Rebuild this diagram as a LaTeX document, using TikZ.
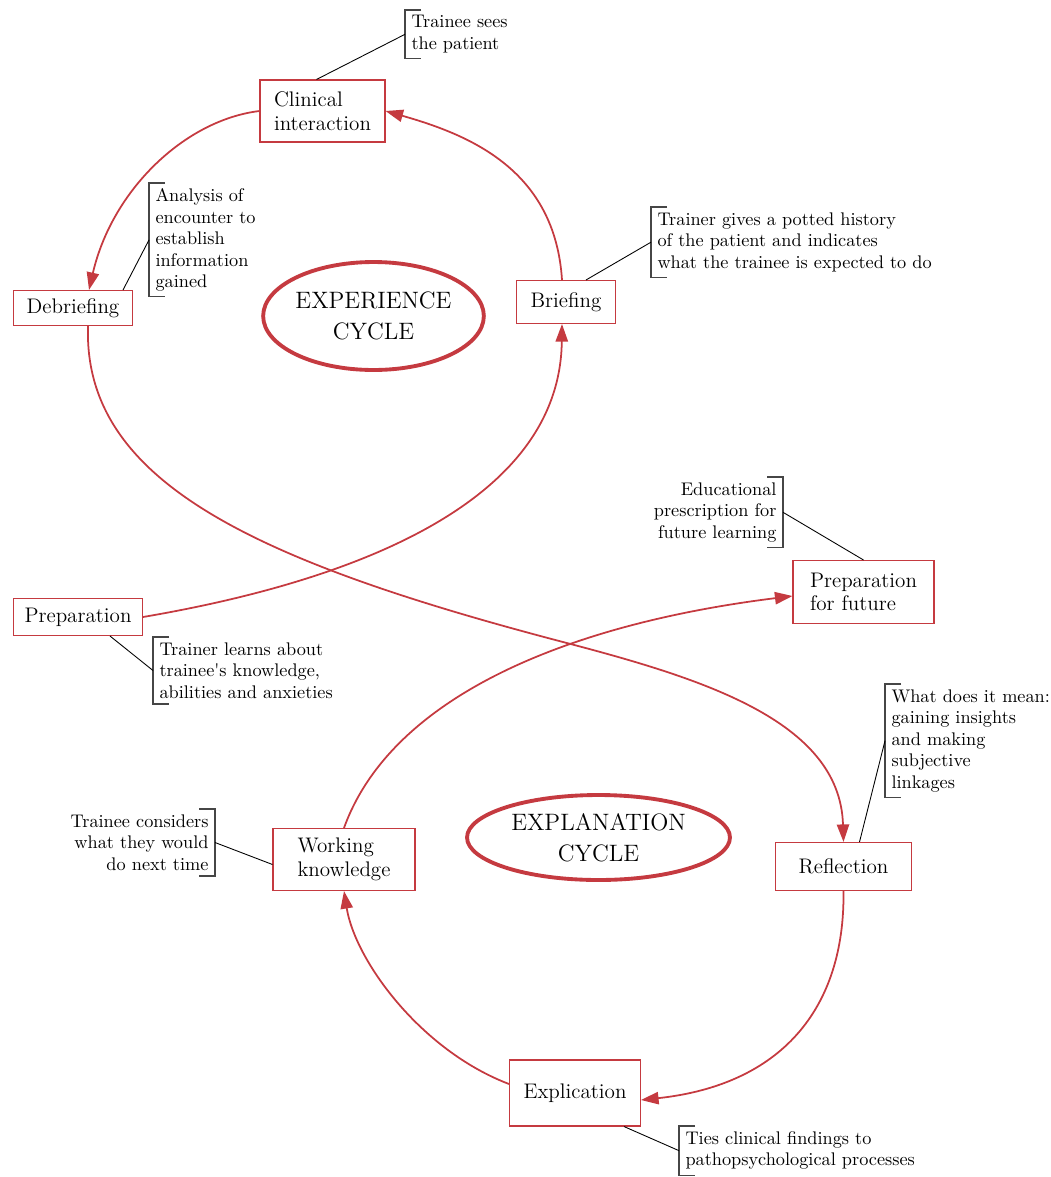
\documentclass[tikz,border=0pt]{standalone}
\usepackage{xcolor}
\usetikzlibrary{positioning,calc,arrows.meta,shapes.geometric}
\definecolor{cyclered}{RGB}{197,58,64}
\definecolor{bracketgray}{RGB}{70,70,70}

\begin{document}
\begin{tikzpicture}[x=0.02cm,y=-0.02cm,>={Triangle[length=10pt,width=7pt]},
    stage/.style={rectangle,draw=cyclered,line width=0.6pt,align=left,inner sep=0pt,font=\fontsize{12}{13.5}\selectfont},
    cyclebox/.style={ellipse,draw=cyclered,line width=2.2pt,align=center,inner sep=0pt,font=\fontsize{13.5}{17.5}\selectfont},
    note/.style={inner xsep=3.5pt,inner ysep=3pt,font=\fontsize{10.4}{12.2}\selectfont},
    flow/.style={->,draw=cyclered,line width=1pt},
    lead/.style={draw=black,line width=0.5pt},
    brack/.style={draw=bracketgray,line width=0.6pt}]
\useasboundingbox (0,0) rectangle (1051,1177);

%Cycles
    \node[cyclebox,minimum width=4.38cm,minimum height=2.16cm] (expc) at (373.5,316) {EXPERIENCE\\CYCLE};
    \node[cyclebox,minimum width=5.26cm,minimum height=1.70cm] (expn) at (598.5,837.5) {EXPLANATION\\CYCLE};

%Stages
    \node[stage,minimum width=2.50cm,minimum height=1.24cm] (clin) at (322.5,111) {Clinical\\interaction};
    \node[stage,minimum width=2.38cm,minimum height=0.70cm] (debr) at (73,308) {Debriefing};
    \node[stage,minimum width=1.98cm,minimum height=0.86cm] (brief) at (566,302) {Briefing};
    \node[stage,minimum width=2.58cm,minimum height=0.74cm] (prep) at (78,617) {Preparation};
    \node[stage,minimum width=2.82cm,minimum height=1.26cm] (prepf) at (863.5,592) {Preparation\\for future};
    \node[stage,minimum width=2.72cm,minimum height=0.96cm] (refl) at (843.5,866.5) {Reflection};
    \node[stage,minimum width=2.84cm,minimum height=1.24cm] (work) at (344,859.5) {Working\\knowledge};
    \node[stage,minimum width=2.62cm,minimum height=1.32cm] (expl) at (575,1093) {Explication};

%Notes
    \node[note,align=left,anchor=north west] (tsees) at (405,10) {Trainee sees\\the patient};
    \node[note,align=left,anchor=north west] (analy) at (149,183) {Analysis of\\encounter to\\establish\\information\\gained};
    \node[note,align=left,anchor=north west] (potted) at (651,207) {Trainer gives a potted history\\of the patient and indicates\\what the trainee is expected to do};
    \node[note,align=right,anchor=north east] (educ) at (783,477) {Educational\\prescription for\\future learning};
    \node[note,align=left,anchor=north west] (learns) at (153,637) {Trainer learns about\\trainee\textquotesingle s knowledge,\\abilities and anxieties};
    \node[note,align=right,anchor=north east] (consid) at (215,809) {Trainee considers\\what they would\\do next time};
    \node[note,align=left,anchor=north west] (meaning) at (885,684) {What does it mean:\\gaining insights\\and making\\subjective\\linkages};
    \node[note,align=left,anchor=north west] (ties) at (679,1126) {Ties clinical findings to\\pathopsychological processes};

    \foreach \n in {tsees,analy,potted,learns,meaning,ties}
        \draw[brack] ($(\n.north west)+(16,0)$) -| (\n.south west) -- ++(16,0);
    \foreach \n in {educ,consid}
        \draw[brack] ($(\n.north east)+(-16,0)$) -| (\n.south east) -- ++(-16,0);

    \draw[lead] ($(clin.north)+(-6,0)$) -- (tsees.west);
    \draw[lead] ($(debr.north east)+(-10,0)$) -- (analy.west);
    \draw[lead] ($(brief.north)+(20,0)$) -- (potted.west);
    \draw[lead] (prepf.north) -- (educ.east);
    \draw[lead] ($(prep.south)+(32,0)$) -- (learns.west);
    \draw[lead] ($(work.west)+(0,5)$) -- (consid.east);
    \draw[lead] ($(refl.north)+(16,0)$) -- (meaning.west);
    \draw[lead] ($(expl.south east)+(-17,0)$) -- (ties.west);

%Experience cycle
    \draw[flow] (clin.west) .. controls (185,120) and (112,190) .. ($(debr.north)+(16,0)$);
    \draw[flow] ($(debr.south)+(15,0)$) .. controls (83,480) and (250,560) .. (563,642)
        .. controls (700,678) and (840,720) .. (refl.north);
    \draw[flow] (prep.east) .. controls (360,580) and (560,500) .. ($(brief.south)+(-4,0)$);
    \draw[flow] ($(brief.north)+(-4,0)$) .. controls (555,170) and (470,135) .. (clin.east);

%Explanation cycle
    \draw[flow] (work.north) .. controls (390,700) and (560,625) .. ($(prepf.west)+(0,4)$);
    \draw[flow] (refl.south) .. controls (845,1010) and (780,1085) .. ($(expl.east)+(0,7)$);
    \draw[flow] ($(expl.west)+(0,-9)$) .. controls (420,1050) and (355,960) .. (work.south);
\end{tikzpicture}
\end{document}
